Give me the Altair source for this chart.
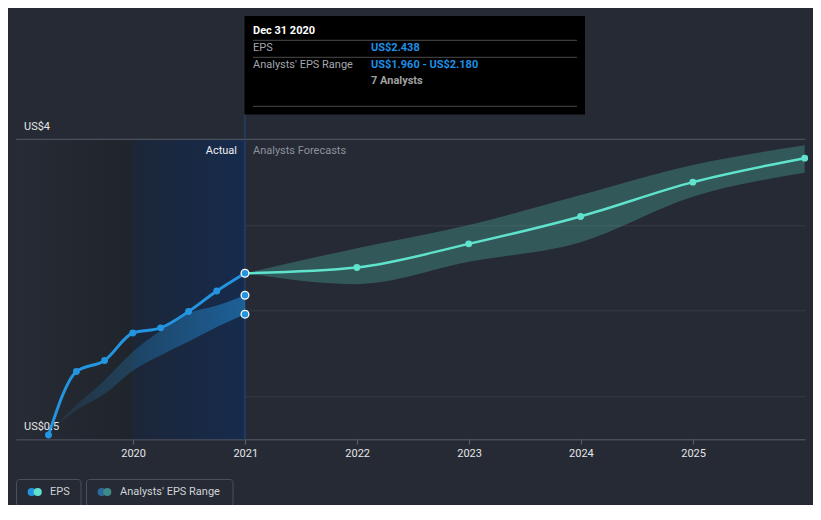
import altair as alt
import pandas as pd

# ---------------- data ----------------
actual_dates = ["2019-03-31", "2019-06-30", "2019-09-30", "2019-12-31",
                "2020-03-31", "2020-06-30", "2020-09-30", "2020-12-31"]
actual_eps = [0.55, 1.29, 1.42, 1.74, 1.80, 1.99, 2.23, 2.438]
range_low = [0.58, 0.84, 1.03, 1.30, 1.48, 1.64, 1.81, 1.96]
range_high = [0.58, 0.90, 1.19, 1.52, 1.77, 1.97, 2.06, 2.18]

fc_dates = ["2020-12-31", "2021-12-31", "2022-12-31", "2023-12-31",
            "2024-12-31", "2025-12-31"]
fc_eps = [2.438, 2.505, 2.78, 3.10, 3.50, 3.78]
fc_low = [2.438, 2.31, 2.57, 2.80, 3.33, 3.61]
fc_high = [2.438, 2.73, 3.00, 3.35, 3.70, 3.93]

year_ticks = [2020, 2021, 2022, 2023, 2024, 2025]
grid_values = [1, 2, 3]
y_label_values = [4, 0.5]
y_label_text = ["US$4", "US$0.5"]
period_edges = ["2018-12-15", "2020-01-01", "2021-01-01"]
hover_date = "2020-12-31"

# ---------------- tables ----------------
actual_df = pd.DataFrame({"date": actual_dates, "eps": actual_eps})
past_range_df = pd.DataFrame({"date": actual_dates, "low": range_low, "high": range_high})
fc_df = pd.DataFrame({"date": fc_dates, "eps": fc_eps, "low": fc_low, "high": fc_high})
hover_pts_df = pd.DataFrame({"date": [hover_date] * 3,
                             "eps": [actual_eps[-1], range_high[-1], range_low[-1]]})
ylab_df = pd.DataFrame({"eps": y_label_values, "label": y_label_text})
top_df = pd.DataFrame({"eps": [max(y_label_values)]})
shade_old_df = pd.DataFrame({"date": [period_edges[0]], "end": [period_edges[1]],
                             "eps": [4], "low": [0.5]})
shade_new_df = pd.DataFrame({"date": [period_edges[1]], "end": [period_edges[2]],
                             "eps": [4], "low": [0.5]})
hover_line_df = pd.DataFrame({"date": [hover_date], "eps": [4.3], "low": [0.5]})

BLUE = "#2394df"
TEAL = "#5fe3cd"
FONT = "Roboto"

xscale = alt.Scale(type="utc",
                   domain=[alt.DateTime(year=2018, month=12, date=15, utc=True),
                           alt.DateTime(year=2026, month=1, date=1, utc=True)])
yscale = alt.Scale(domain=[0.5, 4], nice=False, zero=False)

xaxis = alt.Axis(values=[alt.DateTime(year=y, month=1, date=1, utc=True) for y in year_ticks],
                 format="%Y", title=None, grid=False, domainColor="#5a5f6b",
                 tickColor="#5a5f6b", tickSize=5, labelColor="#e6e6e6",
                 labelFontSize=11, labelFont=FONT, labelPadding=3)
yaxis = alt.Axis(values=grid_values, title=None, grid=True, gridColor="#363b46",
                 labels=False, ticks=False, domain=False)


def X(f="date"):
    return alt.X(f"{f}:T", scale=xscale, axis=xaxis)


def Y(f="eps"):
    return alt.Y(f"{f}:Q", scale=yscale, axis=yaxis)


base = alt.Chart(actual_df)

# shaded past regions
shade_old = alt.Chart(shade_old_df).mark_rect(
    color=alt.Gradient(gradient="linear", x1=0, x2=1, y1=0, y2=0,
                       stops=[alt.GradientStop(color="#262b35", offset=0),
                              alt.GradientStop(color="#20242b", offset=1)])
).encode(x=X(), x2="end:T", y=Y(), y2="low:Q")

shade_new = alt.Chart(shade_new_df).mark_rect(
    color=alt.Gradient(gradient="linear", x1=0, x2=1, y1=0, y2=0,
                       stops=[alt.GradientStop(color="#1c2638", offset=0),
                              alt.GradientStop(color="#162b4d", offset=1)])
).encode(x=X(), x2="end:T", y=Y(), y2="low:Q")

grid_layer = alt.Chart(top_df).mark_rule(color="#555a66", strokeWidth=1).encode(y=Y())

hover_line = alt.Chart(hover_line_df).mark_rule(color="#24487a", strokeWidth=1).encode(
    x=X(), y=Y(), y2="low:Q")

past_band = alt.Chart(past_range_df).mark_area(
    interpolate="monotone",
    color=alt.Gradient(gradient="linear", x1=0, x2=1, y1=0, y2=0,
                       stops=[alt.GradientStop(color="rgba(35,148,223,0.08)", offset=0),
                              alt.GradientStop(color="rgba(35,148,223,0.5)", offset=1)])
).encode(x=X(), y=Y("low"), y2="high:Q")

fc_band = alt.Chart(fc_df).mark_area(interpolate="monotone", color=TEAL, opacity=0.25).encode(
    x=X(), y=Y("low"), y2="high:Q")

actual_line = base.mark_line(interpolate="monotone", color=BLUE, strokeWidth=3).encode(
    x=X(), y=Y())
fc_line = alt.Chart(fc_df).mark_line(interpolate="monotone", color=TEAL, strokeWidth=2.5).encode(
    x=X(), y=Y())

actual_pts = alt.Chart(actual_df.iloc[:-1]).mark_circle(size=48, color=BLUE, opacity=1).encode(
    x=X(), y=Y())
fc_pts = alt.Chart(fc_df.iloc[1:]).mark_circle(size=48, color=TEAL, opacity=1).encode(
    x=X(), y=Y())
hover_pts = alt.Chart(hover_pts_df).mark_point(
    shape="circle", size=60, filled=True, fill=BLUE, stroke="white", strokeWidth=1.3, opacity=1
).encode(x=X(), y=Y())

ylabels = alt.Chart(ylab_df).mark_text(
    align="left", baseline="middle", dy=-12.6, color="#e6e6e6", fontSize=11, font=FONT
).encode(x=alt.value(8), y=Y(), text="label:N")

txt_actual = alt.Chart(top_df).mark_text(
    text="Actual", align="right", baseline="middle", color="#eeeeee", fontSize=11, font=FONT
).encode(x=alt.value(221), y=alt.value(11.7))
txt_fc = alt.Chart(top_df).mark_text(
    text="Analysts Forecasts", align="left", baseline="middle", color="#8c929c",
    fontSize=11, font=FONT
).encode(x=alt.value(237), y=alt.value(11.7))

# tooltip box
tip_box = alt.Chart(top_df).mark_rect(color="#000000").encode(
    x=alt.value(228.5), x2=alt.value(569), y=alt.value(-123.3), y2=alt.value(-24.8))
tip_rules = [
    alt.Chart(top_df).mark_rule(color="#4a4a4a", strokeWidth=1).encode(
        x=alt.value(237), x2=alt.value(561), y=alt.value(yy))
    for yy in [-99.0, -82.0, -33.0]
]


def tip_text(t, x, y, color, bold=False):
    return alt.Chart(top_df).mark_text(
        text=t, align="left", baseline="middle", color=color, fontSize=11, font=FONT,
        fontWeight="bold" if bold else "normal"
    ).encode(x=alt.value(x), y=alt.value(y))


tip_texts = [
    tip_text("Dec 31 2020", 237, -108.3, "#ffffff", True),
    tip_text("EPS", 237, -91.0, "#a2a6ae"),
    tip_text("US$2.438", 355, -91.0, "#1e90e6", True),
    tip_text("Analysts' EPS Range", 237, -74.3, "#a2a6ae"),
    tip_text("US$1.960 - US$2.180", 355, -74.3, "#1e90e6", True),
    tip_text("7 Analysts", 355, -58.3, "#a0a0a0", True),
]

# legend
leg_boxes = [
    alt.Chart(top_df).mark_rect(fillOpacity=0, stroke="#4a505c", strokeWidth=1, cornerRadius=3).encode(
        x=alt.value(x0), x2=alt.value(x1), y=alt.value(340.2), y2=alt.value(366.7))
    for x0, x1 in [(0.5, 65), (70.5, 217)]
]
leg_dots = [
    alt.Chart(top_df).mark_circle(size=66, color=c, opacity=1).encode(
        x=alt.value(x), y=alt.value(352.7))
    for x, c in [(15.7, BLUE), (21.7, TEAL), (85.7, "#2b6a9a"), (91.3, "#3f8a88")]
]
leg_texts = [
    alt.Chart(top_df).mark_text(text=t, align="left", baseline="middle", color="#d0d3d8",
                                fontSize=11, font=FONT).encode(x=alt.value(x), y=alt.value(352.7))
    for t, x in [("EPS", 34), ("Analysts' EPS Range", 104)]
]

chart = alt.layer(
    shade_old, shade_new, grid_layer, hover_line, past_band, fc_band,
    actual_line, fc_line, actual_pts, fc_pts, hover_pts,
    ylabels, txt_actual, txt_fc, tip_box, *tip_rules, *tip_texts,
    *leg_boxes, *leg_dots, *leg_texts
).properties(
    width=789, height=300,
    padding={"left": 8, "top": 131.3, "right": 8, "bottom": 66},
    autosize=alt.AutoSizeParams(type="none"),
    background="#252a34"
).configure(font=FONT).configure_view(stroke=None)

chart.save("out.html", embed_options={"renderer": "svg", "actions": False})
